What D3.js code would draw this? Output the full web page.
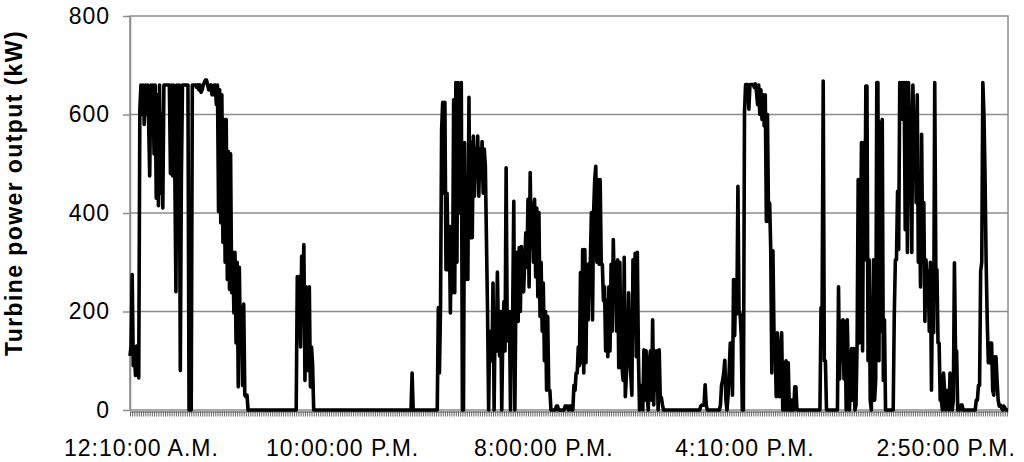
<!DOCTYPE html>
<html><head><meta charset="utf-8">
<script src="https://cdn.jsdelivr.net/npm/d3@7"></script>
<style>body{margin:0;background:#fff}svg{display:block}</style>
</head><body>
<svg id="c" width="1024" height="462"></svg>
<script>
// Turbine power output (kW), two readings per category tick
const powerKW = [
110,130, 275,90, 120,70, 130,100, 65,610, 660,600, 660,580, 660,600, 660,590, 475,660,
600,660, 520,660, 430,640, 415,660, 440,600, 410,660, 660,660, 660,660, 660,480, 660,475,
660,480, 240,660, 480,660, 80,475, 660,660, 660,660, 660,660, 0,0, 0,660, 660,660,
660,655, 660,650, 660,645, 650,660, 665,670, 670,660, 650,655, 660,640, 640,660, 660,620,
660,403, 650,380, 640,340, 590,300, 590,265, 525,245, 520,238, 320,197, 320,136, 300,47,
290,120, 210,50, 215,30, 27,30, 0,0,
0,0,0,0,0,0,0,0,0,0,
0,0,0,0,0,0,0,0,0,0,
0,0,0,0,0,0,0,0,0,0,
0,0,0,0,0,0,0,0,0,0,
0,0,
0,271, 238,271, 128,312, 240,336, 60,250, 238,80, 250,47, 128,92, 0,0,
0,0,0,0,0,0,0,0,0,0,
0,0,0,0,0,0,0,0,0,0,
0,0,0,0,0,0,0,0,0,0,
0,0,0,0,0,0,0,0,0,0,
0,0,0,0,0,0,0,0,0,0,
0,0,0,0,0,0,0,0,0,0,
0,0,0,0,0,0,0,0,0,0,
0,0,0,0,0,0,0,0,0,0,
0,0,0,0,0,0,0,0,
75,0,
0,0,0,0,0,0,0,0,0,0,
0,0,0,0,0,0,0,0,0,0,
0,0,
208,75, 208,570, 625,440, 625,285, 440,285, 373,197, 373,238, 630,238, 665,300, 665,400,
640,665, 0,0, 543,265, 350,265, 635,350, 543,350, 556,434, 530,495, 556,434, 530,470,
545,440, 530,495, 346,200, 0,160, 140,100, 258,0, 200,120, 280,150, 110,200, 0,160,
220,120, 492,160, 140,200, 0,180, 200,424, 0,250, 320,180, 330,200, 332,250, 240,300,
360,290, 428,250, 482,330, 420,300, 428,270, 410,230, 401,190, 300,160, 258,100, 200,40,
190,40, 40,0, 0,0, 0,0, 8,8, 0,0, 0,0, 0,0, 8,8, 8,0,
8,8, 0,0, 50,40, 75,75, 128,90, 279,96, 326,75, 326,96, 296,183, 296,300,
401,183, 401,468, 495,300, 468,296, 468,296, 296,222, 250,120, 222,108, 250,120, 296,160,
346,250, 300,160, 305,86, 300,120, 86,60, 310,27, 71,120, 238,120, 71,30, 305,180,
318,108, 320,108, 0,50, 47,0, 122,20, 120,30, 0,100, 120,20, 183,10, 120,40,
120,0, 122,20, 25,10, 0,0,
0,0,0,0,0,0,0,0,0,0,
0,0,0,0,0,0,0,0,0,0,
0,0,0,0,0,0,0,0,0,0,
0,0,
8,10, 10,10, 51,10, 0,0,
0,0,0,0,0,0,0,0,0,0,
10,50, 60,75, 101,20, 0,30, 80,136, 136,30, 265,151, 265,195, 454,200, 195,151,
0,0, 604,661, 661,661, 611,661, 661,661, 661,655, 662,645, 620,660, 600,650, 590,640,
577,640, 383,600, 383,420, 326,75, 323,150, 150,27, 157,96, 27,120, 157,0, 96,0,
100,0, 96,0, 0,20, 0,0, 47,47, 0,0, 0,0,
0,0,0,0,0,0,0,0,0,0,
0,0,0,0,0,0,0,0,
208,208, 668,100, 100,0, 0,0,
0,0,0,0,0,0,0,0,
250,63, 180,100, 183,63, 180,0, 183,70, 0,67, 125,20, 125,0, 10,136, 468,136,
305,543, 120,543, 305,658, 658,100, 305,20, 0,120, 305,20, 60,665, 665,100, 584,160, 590,60, 183,0,
0,0,0,0,0,0,
0,195, 305,305, 444,326, 665,590, 665,590, 665,366, 665,320, 665,580, 590,320, 660,560,
600,421, 640,300, 421,250, 560,300, 421,180, 305,250, 282,160, 300,40, 250,157, 665,285,
285,136, 136,20, 20,0, 75,40, 0,20, 40,0, 75,20, 0,20, 299,120, 120,0, 0,0, 10,10,
0,0,0,0,0,0,0,0,0,0,
0,0,
20,20, 50,50, 282,300, 665,600, 475,300, 183,96, 96,136, 136,40, 30,108, 108,60, 20,8, 10,5, 0,8, 5,0, 0,0
];
const xLabelIndex = [10, 194, 378, 562, 746];
const xTickLabels = ["12:10:00 A.M.", "10:00:00 P.M.", "8:00:00 P.M.", "4:10:00 P.M.", "2:50:00 P.M."];
const yTickValues = [0, 200, 400, 600, 800];
const yTitle = "Turbine power output (kW)";

const svg = d3.select("#c");
const L = 130, R = 1008, T = 16, B = 410;
const grey = "#8c8c8c";
const font = "'Liberation Sans', Arial, sans-serif";
const x = d3.scaleLinear().domain([0, powerKW.length - 1]).range([L, R]);
const y = d3.scaleLinear().domain([0, 800]).range([B, T]);

svg.append("rect").attr("width", 1024).attr("height", 462).attr("fill", "#fff");

// gridlines
svg.append("g").selectAll("line")
  .data(yTickValues.filter(v => v > 0 && v < 800)).join("line")
  .attr("x1", L).attr("x2", R).attr("y1", d => y(d)).attr("y2", d => y(d))
  .attr("stroke", grey).attr("stroke-width", 1.5);

// frame
svg.append("rect").attr("x", L).attr("y", T).attr("width", R - L).attr("height", B - T)
  .attr("fill", "none").attr("stroke", grey).attr("stroke-width", 1.5);

// y axis
const ya = svg.append("g").attr("transform", `translate(${L},0)`)
  .call(d3.axisLeft(y).tickValues(yTickValues).tickSize(7).tickSizeOuter(0).tickPadding(13));
ya.select(".domain").attr("stroke", grey).attr("stroke-width", 1.5);
ya.selectAll(".tick line").attr("stroke", grey).attr("stroke-width", 1.5);
ya.selectAll("text").attr("font-family", font).attr("font-size", 23)
  .attr("fill", "#000").attr("letter-spacing", "1px");

// x axis (category ticks)
const xa = svg.append("g").attr("transform", `translate(0,${B + 1.5})`)
  .call(d3.axisBottom(x).tickValues(d3.range(0, powerKW.length, 2)).tickSize(5).tickSizeOuter(0).tickFormat(""));
xa.select(".domain").attr("stroke", grey).attr("stroke-width", 1.5);
xa.selectAll(".tick line").attr("stroke", "#555").attr("stroke-width", 0.9);

// x labels
const xl = svg.append("g").attr("transform", `translate(0,${B + 1.5})`)
  .call(d3.axisBottom(x).tickValues(xLabelIndex).tickSize(0).tickPadding(0)
    .tickFormat((d, i) => xTickLabels[i]));
xl.select(".domain").remove();
xl.selectAll("text").attr("font-family", font).attr("font-size", 23).attr("fill", "#000")
  .attr("letter-spacing", "1px").attr("dy", null).attr("y", 44);

// data line
svg.append("path").datum(powerKW)
  .attr("d", d3.line().x((d, i) => x(i)).y(d => y(d)))
  .attr("fill", "none").attr("stroke", "#000").attr("stroke-width", 3.6)
  .attr("stroke-linejoin", "round");

// y title
svg.append("text").attr("transform", "translate(22,193) rotate(-90)")
  .attr("text-anchor", "middle").attr("font-family", font).attr("font-weight", "bold")
  .attr("font-size", 23).attr("letter-spacing", "1.4px").attr("fill", "#000")
  .text(yTitle);
</script>
</body></html>
